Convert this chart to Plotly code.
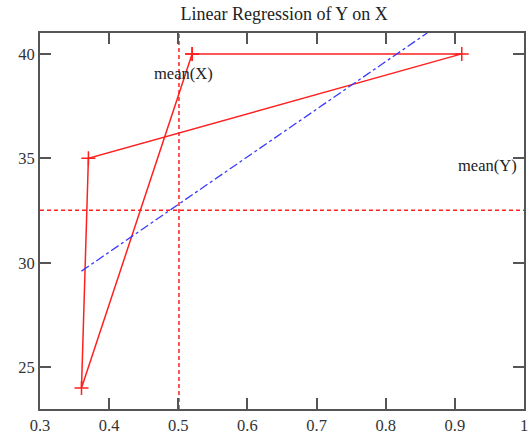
import plotly.graph_objects as go

# data points (path order as drawn)
path_x = [0.52, 0.91, 0.37, 0.36, 0.52]
path_y = [40.0, 40.0, 35.0, 24.0, 40.0]

# regression line end points
reg_x = [0.36, 0.86]
reg_y = [29.6, 41.0]

mean_x = 0.501
mean_y = 32.52

x_range = [0.3, 1.0]
y_range = [23.0, 41.0]
x_ticks = [0.3, 0.4, 0.5, 0.6, 0.7, 0.8, 0.9, 1.0]
x_tick_text = ["0.3", "0.4", "0.5", "0.6", "0.7", "0.8", "0.9", "1"]
y_ticks = [25, 30, 35, 40]

SERIF = "Liberation Serif, Times New Roman, serif"

fig = go.Figure()
fig.add_trace(go.Scatter(x=path_x, y=path_y, mode="lines+markers",
                         line=dict(color="#ff2020", width=1.5),
                         marker=dict(symbol="cross-thin", size=10,
                                     line=dict(color="#ff2020", width=1.5)),
                         showlegend=False, hoverinfo="skip"))
fig.add_trace(go.Scatter(x=reg_x, y=reg_y, mode="lines",
                         line=dict(color="#3a3aff", width=1.3, dash="dashdot"),
                         showlegend=False, hoverinfo="skip"))
fig.add_trace(go.Scatter(x=[mean_x, mean_x], y=y_range, mode="lines",
                         line=dict(color="#ff2020", width=1.5, dash="4px,3px"),
                         showlegend=False, hoverinfo="skip"))
fig.add_trace(go.Scatter(x=x_range, y=[mean_y, mean_y], mode="lines",
                         line=dict(color="#ff2020", width=1.5, dash="4px,3px"),
                         showlegend=False, hoverinfo="skip"))

fig.add_annotation(x=0.508, y=39.05, text="mean(X)", showarrow=False,
                   font=dict(family=SERIF, size=16.5, color="#222"),
                   xanchor="center", yanchor="middle")
fig.add_annotation(x=0.993, y=34.65, text="mean(Y)", showarrow=False,
                   font=dict(family=SERIF, size=16.5, color="#222"),
                   xanchor="right", yanchor="middle")

fig.update_layout(
    width=531, height=438,
    margin=dict(l=40, r=3, t=33, b=25),
    paper_bgcolor="white", plot_bgcolor="white",
    title=dict(text="Linear Regression of Y on X", x=0.535, xanchor="center",
               y=0.968, yanchor="middle",
               font=dict(family=SERIF, size=18, color="#222")),
    font=dict(family=SERIF, size=16.5, color="#333"),
)
fig.update_xaxes(range=x_range, tickvals=x_ticks, ticktext=x_tick_text,
                 ticks="inside", ticklen=11, tickwidth=2, tickcolor="#555",
                 showline=True, linecolor="#555", linewidth=2, mirror="ticks",
                 showgrid=False, zeroline=False)
fig.update_yaxes(range=y_range, tickvals=y_ticks,
                 ticks="inside", ticklen=11, tickwidth=2, tickcolor="#555",
                 showline=True, linecolor="#555", linewidth=2, mirror="ticks",
                 showgrid=False, zeroline=False)

fig.write_html("out.html", config={"displayModeBar": False},
               post_script="document.body.style.margin='0';document.body.style.padding='0';")
